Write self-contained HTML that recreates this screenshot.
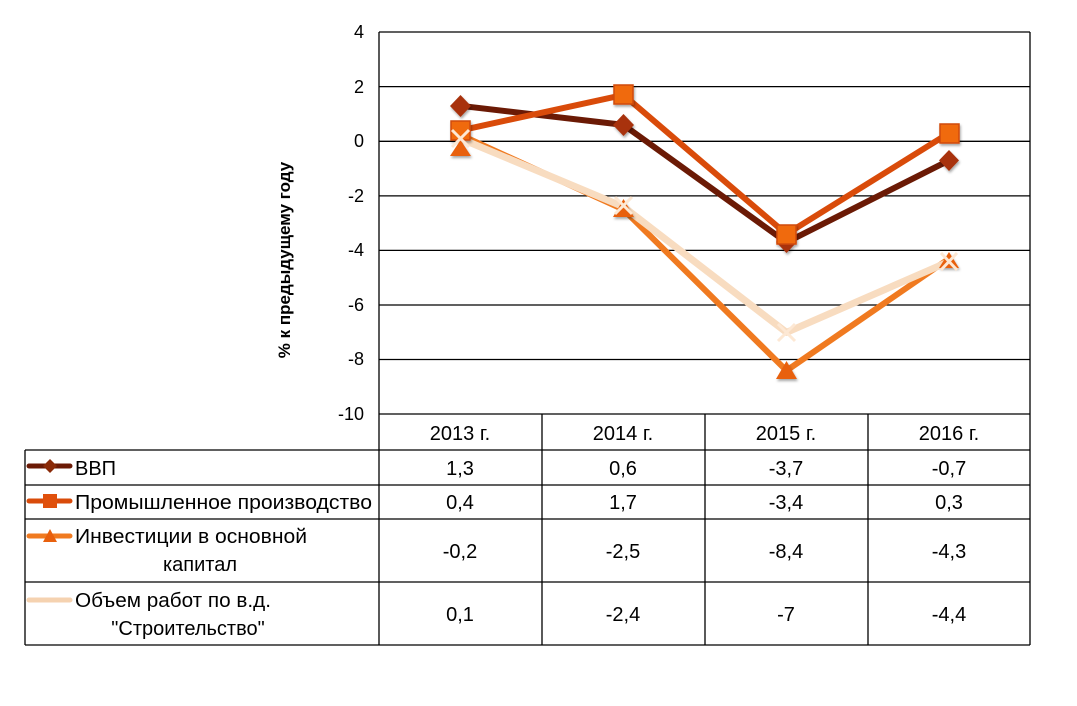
<!DOCTYPE html>
<html><head><meta charset="utf-8"><style>
body{margin:0;background:#fff;}
svg text{font-family:"Liberation Sans","DejaVu Sans",sans-serif;}
</style></head><body>
<svg width="1077" height="701" xmlns="http://www.w3.org/2000/svg">
<defs>
<filter id="sh" x="-20%" y="-20%" width="140%" height="140%"><feDropShadow dx="1" dy="2" stdDeviation="1.2" flood-opacity="0.35"/></filter>
</defs>
<g stroke="#000" stroke-width="1.3">
<line x1="379" y1="32" x2="1030" y2="32"/>
<line x1="379" y1="86.6" x2="1030" y2="86.6"/>
<line x1="379" y1="141.3" x2="1030" y2="141.3"/>
<line x1="379" y1="195.9" x2="1030" y2="195.9"/>
<line x1="379" y1="250.4" x2="1030" y2="250.4"/>
<line x1="379" y1="305" x2="1030" y2="305"/>
<line x1="379" y1="359.5" x2="1030" y2="359.5"/>
<line x1="379" y1="32" x2="379" y2="645"/>
<line x1="1030" y1="32" x2="1030" y2="645"/>
<line x1="379" y1="414" x2="1030" y2="414"/>
<line x1="25" y1="450" x2="1030" y2="450"/>
<line x1="25" y1="485" x2="1030" y2="485"/>
<line x1="25" y1="519" x2="1030" y2="519"/>
<line x1="25" y1="582" x2="1030" y2="582"/>
<line x1="25" y1="645" x2="1030" y2="645"/>
<line x1="25" y1="450" x2="25" y2="645"/>
<line x1="542" y1="414" x2="542" y2="645"/>
<line x1="705" y1="414" x2="705" y2="645"/>
<line x1="868" y1="414" x2="868" y2="645"/>
</g>
<g font-size="18" text-anchor="end" fill="#000">
<text x="364" y="38">4</text><text x="364" y="93">2</text><text x="364" y="147">0</text>
<text x="364" y="202">-2</text><text x="364" y="256">-4</text><text x="364" y="311">-6</text>
<text x="364" y="365">-8</text><text x="364" y="420">-10</text>
</g>
<text transform="translate(290,260) rotate(-90)" font-size="17" font-weight="bold" text-anchor="middle">% к предыдущему году</text>
<g font-size="20" text-anchor="middle">
<text x="460" y="440">2013 г.</text><text x="623" y="440">2014 г.</text><text x="786" y="440">2015 г.</text><text x="949" y="440">2016 г.</text>
<text x="460" y="475">1,3</text><text x="623" y="475">0,6</text><text x="786" y="475">-3,7</text><text x="949" y="475">-0,7</text>
<text x="460" y="509">0,4</text><text x="623" y="509">1,7</text><text x="786" y="509">-3,4</text><text x="949" y="509">0,3</text>
<text x="460" y="558">-0,2</text><text x="623" y="558">-2,5</text><text x="786" y="558">-8,4</text><text x="949" y="558">-4,3</text>
<text x="460" y="621">0,1</text><text x="623" y="621">-2,4</text><text x="786" y="621">-7</text><text x="949" y="621">-4,4</text>
</g>
<g font-size="20">
<text x="75" y="475">ВВП</text>
<text x="75" y="509" textLength="297" lengthAdjust="spacingAndGlyphs">Промышленное производство</text>
<text x="75" y="543" textLength="232" lengthAdjust="spacingAndGlyphs">Инвестиции в основной</text>
<text x="200" y="571" text-anchor="middle">капитал</text>
<text x="75" y="607" textLength="196" lengthAdjust="spacingAndGlyphs">Объем работ по в.д.</text>
<text x="188" y="635" text-anchor="middle">"Строительство"</text>
</g>
<line x1="29" y1="466" x2="70" y2="466" stroke="#6b1a05" stroke-width="5" stroke-linecap="round"/>
<polygon points="50,459 57,466 50,473 43,466" fill="#8a2a08"/>
<line x1="29" y1="501" x2="70" y2="501" stroke="#d94b0a" stroke-width="5" stroke-linecap="round"/>
<rect x="43" y="494" width="14" height="14" fill="#e0500c"/>
<line x1="29" y1="536" x2="70" y2="536" stroke="#f07a20" stroke-width="5" stroke-linecap="round"/>
<polygon points="50,529 57,542 43,542" fill="#e8600e"/>
<line x1="29" y1="600" x2="70" y2="600" stroke="#f5d2b0" stroke-width="5" stroke-linecap="round"/>
<polyline points="460.5,135 623.5,209.5 786.5,370.6 949,258.7" fill="none" stroke="#f07a20" stroke-width="6" stroke-linejoin="round"/>
<polyline points="460.5,138.6 623.5,206.8 786.5,332.4 949,261.6" fill="none" stroke="#f8dcc0" stroke-width="7" stroke-linejoin="round"/>
<polyline points="460.5,105.8 623.5,124.9 786.5,242.3 949,160.4" fill="none" stroke="#6b1a05" stroke-width="6" stroke-linejoin="round"/>
<polyline points="460.5,130.4 623.5,94.9 786.5,234.1 949,133.1" fill="none" stroke="#d94b0a" stroke-width="6" stroke-linejoin="round"/>
<g filter="url(#sh)">
<g fill="#a8320a">
<polygon points="460.5,95 471,106 460.5,117 450,106"/>
<polygon points="623.5,114 634,125 623.5,136 613,125"/>
<polygon points="786.5,231 797,242 786.5,253 776,242"/>
<polygon points="949,150 959,160.4 949,171 939,160.4"/>
</g>
<g fill="#f06a10" stroke="#d04a08" stroke-width="1.5">
<rect x="451" y="121" width="19" height="19"/>
<rect x="614" y="85" width="19" height="19"/>
<rect x="777" y="225" width="19" height="19"/>
<rect x="940" y="124" width="19" height="19"/>
</g>
<g fill="#e8600e">
<polygon points="460.5,140 471,156 450,156"/>
<polygon points="623.5,199 634,217 613,217"/>
<polygon points="786.5,361 797,379 776,379"/>
<polygon points="949,252 959,268 939,268"/>
</g>
</g>
<g stroke="#fde8d4" stroke-width="3">
<path d="M452,130 L469,147 M469,130 L452,147"/>
<path d="M615,197 L632,214 M632,197 L615,214"/>
<path d="M778,324 L795,341 M795,324 L778,341"/>
<path d="M941,253 L957,270 M957,253 L941,270"/>
</g>
</svg>
</body></html>
